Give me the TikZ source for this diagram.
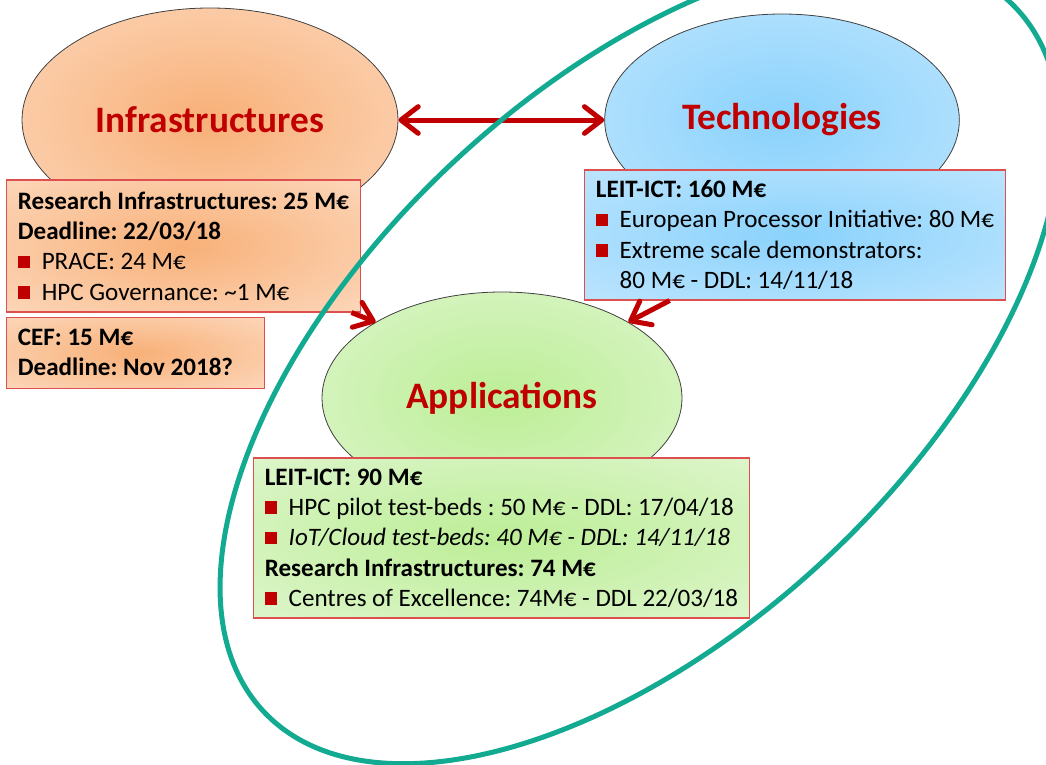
\documentclass[tikz,border=0pt]{standalone}
\usepackage{fontspec}
\setmainfont{Carlito}
\usepackage{tikz}
\usetikzlibrary{shapes.geometric}
\usetikzlibrary{positioning}
\usetikzlibrary{arrows.meta}
\definecolor{titlered}{RGB}{192,0,0}
\definecolor{boxred}{RGB}{222,80,80}
\definecolor{ringteal}{RGB}{18,170,145}
\definecolor{orcore}{RGB}{248,176,120}
\definecolor{oredge}{RGB}{254,230,212}
\definecolor{blcore}{RGB}{138,210,252}
\definecolor{bledge}{RGB}{208,236,255}
\definecolor{grcore}{RGB}{188,238,150}
\definecolor{gredge}{RGB}{234,248,224}
\pgfdeclareradialshading{orangeglow}{\pgfpointorigin}{color(0bp)=(orcore); color(50bp)=(oredge)}
\pgfdeclareradialshading{blueglow}{\pgfpointorigin}{color(0bp)=(blcore); color(50bp)=(bledge)}
\pgfdeclareradialshading{greenglow}{\pgfpointorigin}{color(0bp)=(grcore); color(50bp)=(gredge)}
\newcommand{\sqbullet}{\textcolor{titlered}{\rule[0.06em]{0.5em}{0.5em}}\hspace{0.45em}}
\tikzstyle{hub} = [ellipse, draw=black!75, line width=0.6pt, minimum width=270pt, minimum height=159pt, font=\fontsize{28}{34}\selectfont\bfseries, text=titlered]
\tikzstyle{fundbox} = [rectangle, draw=boxred, line width=0.8pt, align=left, inner xsep=8.25pt, inner ysep=0pt, font=\fontsize{18.8}{22.75}\selectfont\frenchspacing]
\tikzstyle{redarrow} = [line width=3.75pt, draw=titlered, ->, >={Straight Barb[length=13pt,width=20pt,round]}]
\tikzstyle{ring} = [draw=ringteal, line width=3.75pt]

\begin{document}
\begin{tikzpicture}[x=0.75pt, y=-0.75pt]
        \useasboundingbox (0,0) rectangle (1046,764);
        \clip (0,0) rectangle (1046,764);

        % the three areas
        \node (infra) [hub, shading=orangeglow, minimum width=282pt, minimum height=168pt] at (210,120) {Infrastructures};
        \node (tech) [hub, shading=blueglow, minimum width=266pt, right of=infra, node distance=429pt] {Technologies};
        \node (app) [hub, shading=greenglow] at (502,398) {Applications};

        % funding boxes
        \node (infrabox) [fundbox, shading=orangeglow, minimum width=264.75pt, minimum height=99pt] at (183.5,246) {\textbf{Research Infrastructures: 25 M€}\\ \textbf{Deadline: 22/03/18}\\ \sqbullet PRACE: 24 M€\\ \sqbullet HPC Governance: \textasciitilde1 M€};
        \node (cefbox) [fundbox, shading=orangeglow, minimum height=53.25pt, below=3pt of infrabox.south west, anchor=north west] {\textbf{CEF: 15 M€}\\ \makebox[177pt][l]{\textbf{Deadline: Nov 2018?}}};
        \node (techbox) [fundbox, shading=blueglow, minimum width=315pt, minimum height=97.5pt] at (795,235) {\textbf{LEIT-ICT: 160 M€}\\ \sqbullet European Processor Initiative: 80 M€\\ \sqbullet Extreme scale demonstrators:\\ \phantom{\sqbullet}80 M€ - DDL: 14/11/18};
        \node (appbox) [fundbox, shading=greenglow, minimum width=369.75pt, minimum height=120pt] at (501.5,538) {\textbf{LEIT-ICT: 90 M€}\\ \sqbullet HPC pilot test-beds : 50 M€ - DDL: 17/04/18\\ \sqbullet\textit{IoT/Cloud test-beds: 40 M€ - DDL: 14/11/18}\\ \textbf{Research Infrastructures: 74 M€}\\ \sqbullet Centres of Excellence: 74M€ - DDL 22/03/18};

        \draw [redarrow, <->] (infra) -- (tech);
        \draw [redarrow] (infrabox) -- (app.149);
        \draw [redarrow] (techbox) -- (app.31);

        % teal ring round technologies and applications
        \draw [ring] (640,360) ellipse [x radius=515, y radius=272, rotate=43];
    \end{tikzpicture}
\end{document}
